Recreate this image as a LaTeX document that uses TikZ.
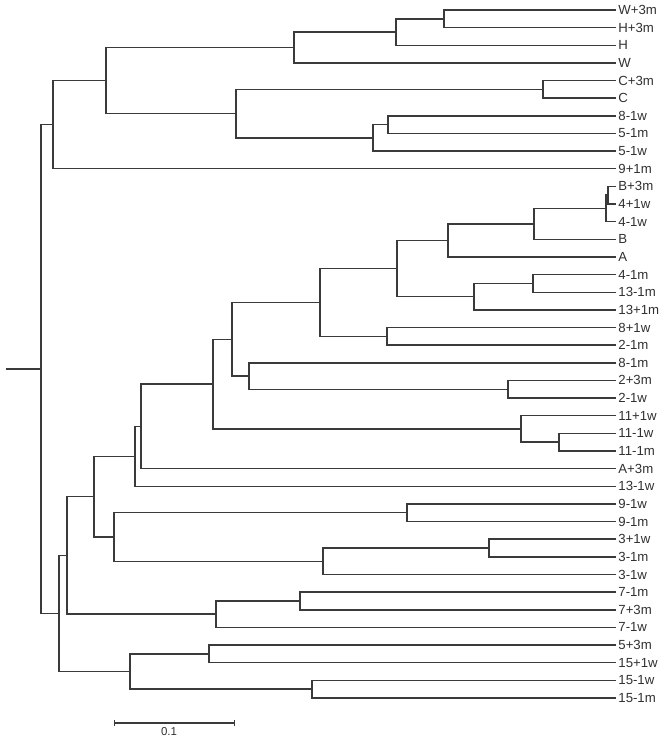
\documentclass[tikz,border=0pt]{standalone}
\usepackage{fontspec}
\setmainfont{Liberation Sans}
\usetikzlibrary{arrows.meta}
\definecolor{Ink}{HTML}{3A3A3A}
\definecolor{LabelGray}{HTML}{303030}

\begin{document}
\begin{tikzpicture}[x=0.75pt,y=-13.23pt,every node/.style={font=\fontsize{9.9}{11}\selectfont,text=LabelGray},
  branch/.style={draw=Ink,line width=1.1pt},
  leaf/.style={anchor=west,inner sep=1.6pt}]
  \useasboundingbox (0,-0.567) rectangle (664,41.383);
  \foreach \lab [count=\i from 0] in {W+3m,H+3m,H,W,C+3m,C,8-1w,5-1m,5-1w,9+1m,B+3m,4+1w,4-1w,B,A,4-1m,13-1m,13+1m,8+1w,2-1m,8-1m,2+3m,2-1w,11+1w,11-1w,11-1m,A+3m,13-1w,9-1w,9-1m,3+1w,3-1m,3-1w,7-1m,7+3m,7-1w,5+3m,15+1w,15-1w,15-1m}{
    \node[leaf] (l\i) at (616,\i) {\lab};
  }
  \foreach \n/\x/\r/\u/\v in {
    a1/444/0.5/l0/l1, a2/396/1.25/a1/l2, a3/294/2.125/a2/l3, a4/543/4.5/l4/l5,
    a5/388/6.5/l6/l7, a6/373/7.25/a5/l8, a7/236/5.875/a4/a6, a8/106/4/a3/a7, a9/53/6.5/a8/l9,
    b1/608/10.5/l10/l11, b2/606/11.25/b1/l12, b3/534/12.125/b2/l13, b4/448/13.0625/b3/l14,
    b5/533/15.5/l15/l16, b6/474/16.25/b5/l17, b7/397/14.656/b4/b6, b8/387/18.5/l18/l19,
    b9/320/16.578/b7/b8, b10/508/21.5/l21/l22, b11/249/20.75/l20/b10, b12/232/18.664/b9/b11,
    b13/559/24.5/l24/l25, b14/521/23.75/l23/b13, b15/213/21.207/b12/b14,
    b16/141/23.604/b15/l26, b17/135/25.302/b16/l27,
    c1/407/28.5/l28/l29, c2/489/30.5/l30/l31, c3/323/31.25/c2/l32, c4/114/29.875/c1/c3,
    b18/94/27.589/b17/c4, d1/300/33.5/l33/l34, d2/216/34.25/d1/l35, b19/67/30.919/b18/d2,
    e1/209/36.5/l36/l37, e2/312/38.5/l38/l39, e3/130/37.5/e1/e2, b20/59/34.21/b19/e3,
    root/41/20.355/a9/b20}{
    \coordinate (\n) at (\x,\r);
    \draw[branch] (\u) -| (\n) |- (\v);
  }
  \coordinate (stub) at (6,20.355);
  \draw[branch] (stub) -- (root);
  \coordinate (bar0) at (114,40.42);
  \coordinate (bar1) at (235,40.42);
  \draw[branch,{Bar[width=4pt]}-{Bar[width=4pt]}] (bar0) -- (bar1);
  \node[font=\fontsize{8.6}{10}\selectfont] (barlab) at (169,40.9) {0.1};
\end{tikzpicture}
\end{document}
